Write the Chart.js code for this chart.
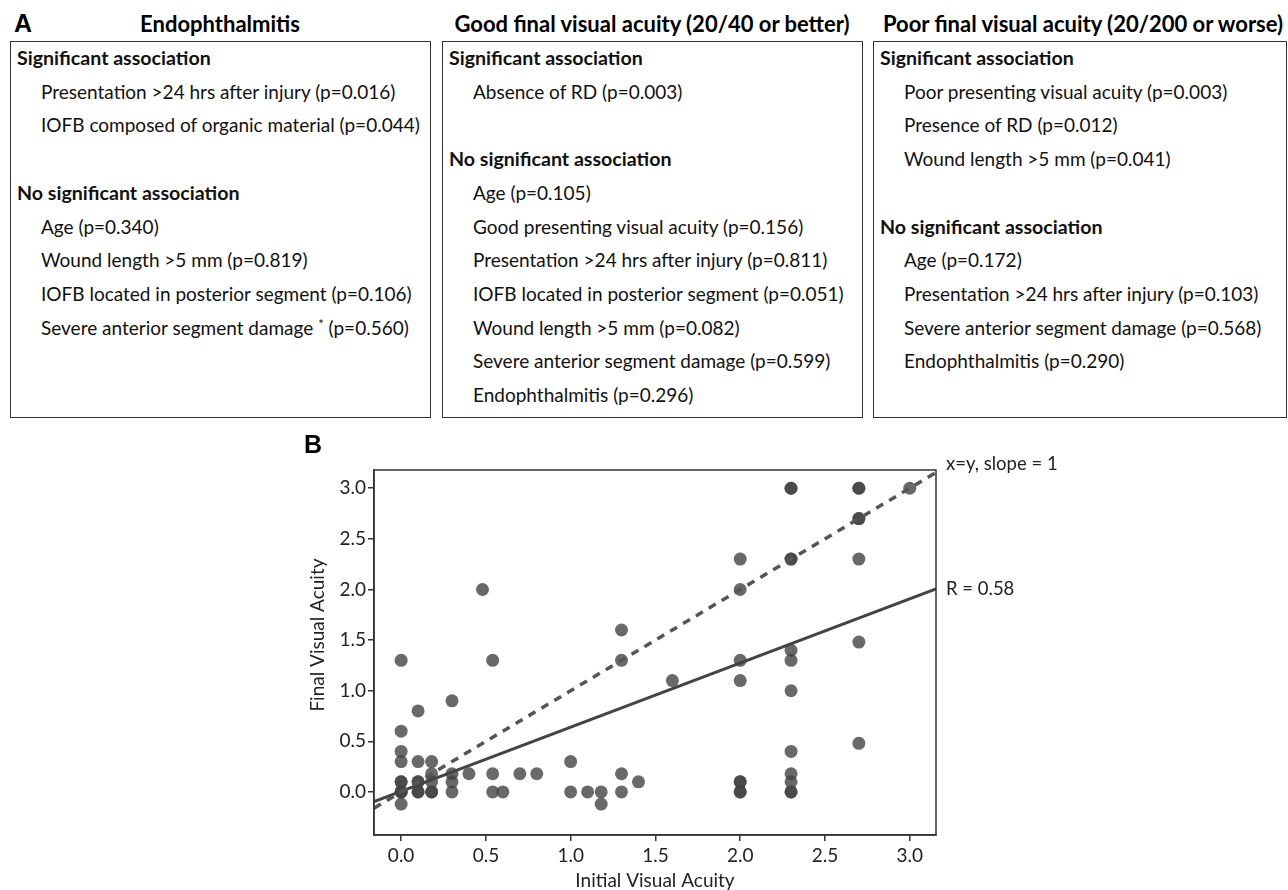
<!DOCTYPE html>
<html>
<head>
<meta charset="utf-8">
<script src="https://cdn.jsdelivr.net/npm/chart.js@4.4.1/dist/chart.umd.min.js"></script>
<style>
  html, body { margin: 0; padding: 0; background: #fff; }
  body { width: 1288px; height: 890px; position: relative; overflow: hidden; font-family: Lato, sans-serif; color: #111; }
  .tag { position: absolute; font-family: 'Liberation Sans', Arial, sans-serif; font-weight: bold; font-size: 25px; line-height: 25px; color: #000; z-index: 2; }
  .col-title { position: absolute; top: 10px; font-weight: bold; font-size: 22px; line-height: 28px; white-space: nowrap; transform: translateX(-50%); color: #000; }
  .box { position: absolute; top: 41px; height: 377px; border: 1.5px solid #333; box-sizing: border-box; }
  .line { position: absolute; height: 34px; line-height: 34px; font-size: 19px; white-space: nowrap; }
  .line.head { font-weight: bold; font-size: 19.6px; }
  .line sup { font-size: 13px; vertical-align: 6px; line-height: 0; }
  #chartB { position: absolute; left: 0; top: 430px; }
</style>
</head>
<body>
<div class="tag" style="left:14px; top:11px;">A</div>
<div class="tag" style="left:304px; top:432px;">B</div>
<canvas id="chartB" width="1288" height="460"></canvas>
<script>
// ---- panel A: association lists ----
const columnTitles = ['Endophthalmitis', 'Good final visual acuity (20/40 or better)', 'Poor final visual acuity (20/200 or worse)'];
const sigEndo = ['Presentation >24 hrs after injury (p=0.016)', 'IOFB composed of organic material (p=0.044)'];
const nonSigEndo = ['Age (p=0.340)', 'Wound length >5 mm (p=0.819)', 'IOFB located in posterior segment (p=0.106)', 'Severe anterior segment damage <sup>*</sup> (p=0.560)'];
const sigGood = ['Absence of RD (p=0.003)'];
const nonSigGood = ['Age (p=0.105)', 'Good presenting visual acuity (p=0.156)', 'Presentation >24 hrs after injury (p=0.811)', 'IOFB located in posterior segment (p=0.051)', 'Wound length >5 mm (p=0.082)', 'Severe anterior segment damage (p=0.599)', 'Endophthalmitis (p=0.296)'];
const sigPoor = ['Poor presenting visual acuity (p=0.003)', 'Presence of RD (p=0.012)', 'Wound length >5 mm (p=0.041)'];
const nonSigPoor = ['Age (p=0.172)', 'Presentation >24 hrs after injury (p=0.103)', 'Severe anterior segment damage (p=0.568)', 'Endophthalmitis (p=0.290)'];

// ---- panel B: initial vs final visual acuity (logMAR) ----
const initialVA = [0, 0, 0, 0, 0, 0, 0, 0, 0, 0,
  0.1, 0.1, 0.1, 0.1, 0.1, 0.1,
  0.18, 0.18, 0.18, 0.18, 0.18,
  0.3, 0.3, 0.3, 0.3, 0.4, 0.48, 0.54, 0.54, 0.54, 0.6, 0.7, 0.8,
  1.0, 1.0, 1.1, 1.18, 1.18, 1.3, 1.3, 1.3, 1.3, 1.4, 1.6,
  2.0, 2.0, 2.0, 2.0, 2.0, 2.0, 2.0, 2.0,
  2.3, 2.3, 2.3, 2.3, 2.3, 2.3, 2.3, 2.3, 2.3, 2.3, 2.3, 2.3,
  2.7, 2.7, 2.7, 2.7, 2.7, 2.7, 2.7, 3.0];
const finalVA = [1.3, 0.6, 0.4, 0.3, 0.1, 0.1, 0, 0, 0, -0.12,
  0.8, 0.3, 0.1, 0.1, 0, 0,
  0.3, 0.18, 0.1, 0, 0,
  0.9, 0.18, 0.1, 0, 0.18, 2.0, 1.3, 0.18, 0, 0, 0.18, 0.18,
  0.3, 0, 0, 0, -0.12, 1.6, 1.3, 0.18, 0, 0.1, 1.1,
  2.3, 2.0, 1.3, 1.1, 0.1, 0.1, 0, 0,
  3.0, 3.0, 2.3, 2.3, 1.4, 1.3, 1.0, 0.4, 0.18, 0.1, 0, 0,
  3.0, 3.0, 2.7, 2.7, 2.3, 1.48, 0.48, 3.0];
const axisTicks = [0, 0.5, 1.0, 1.5, 2.0, 2.5, 3.0];
const identityX = [-0.16, 3.155];
const identityY = [-0.16, 3.155];
const fitX = [-0.16, 3.155];
const fitY = [-0.096, 2.006];
const lineLabels = ['x=y, slope = 1', 'R = 0.58'];
const yTitle = 'Final Visual Acuity';

// build the three boxes
const boxes = [
  {left: 10, width: 421, titleX: 220, sig: sigEndo, non: nonSigEndo},
  {left: 442, width: 421, titleX: 652, sig: sigGood, non: nonSigGood},
  {left: 873, width: 414, titleX: 1083, sig: sigPoor, non: nonSigPoor}
];
const ROW0 = 58, ROW = 33.7;
function addLine(html, x, row, bold){
  const d = document.createElement('div');
  d.className = 'line' + (bold ? ' head' : '');
  d.style.left = x + 'px';
  d.style.top = (ROW0 + row * ROW - 17) + 'px';
  d.innerHTML = html;
  document.body.appendChild(d);
}
boxes.forEach((b, i) => {
  const t = document.createElement('div');
  t.className = 'col-title';
  t.style.left = b.titleX + 'px';
  t.textContent = columnTitles[i];
  document.body.appendChild(t);

  const box = document.createElement('div');
  box.className = 'box';
  box.style.left = b.left + 'px';
  box.style.width = b.width + 'px';
  document.body.appendChild(box);

  let row = 0;
  addLine('Significant association', b.left + 7, row++, true);
  b.sig.forEach(s => addLine(s, b.left + 31, row++, false));
  row++;
  addLine('No significant association', b.left + 7, row++, true);
  b.non.forEach(s => addLine(s, b.left + 31, row++, false));
});

// chart
Chart.defaults.font.family = 'Lato, sans-serif';
Chart.defaults.color = '#222';

const framePlugin = {
  id: 'frame',
  afterDraw(chart){
    const {ctx, chartArea: a, scales} = chart;
    ctx.save();
    ctx.strokeStyle = '#333';
    ctx.lineWidth = 1.5;
    ctx.strokeRect(a.left, a.top, a.right - a.left, a.bottom - a.top);
    ctx.fillStyle = '#222';
    ctx.font = '18.5px Lato, sans-serif';
    ctx.textBaseline = 'middle';
    ctx.textAlign = 'left';
    ctx.fillText(lineLabels[0], a.right + 10, scales.y.getPixelForValue(identityY[1]) - 8);
    ctx.fillText(lineLabels[1], a.right + 10, scales.y.getPixelForValue(fitY[1]));
    // y axis title (sits a bit above the plot's middle in the original)
    ctx.font = '19px Lato, sans-serif';
    ctx.textAlign = 'center';
    ctx.translate(a.left - 56, scales.y.getPixelForValue(1.55));
    ctx.rotate(-Math.PI / 2);
    ctx.fillText(yTitle, 0, 0);
    ctx.restore();
  }
};

const axisGrid = {display: true, drawOnChartArea: false, drawTicks: true, tickLength: 6, color: '#333', lineWidth: 1.5};

new Chart(document.getElementById('chartB'), {
  type: 'scatter',
  data: {
    datasets: [
      {
        label: 'x=y',
        data: identityX.map((x, i) => ({x: x, y: identityY[i]})),
        showLine: true, borderColor: '#555', borderWidth: 3.5, borderDash: [8, 7],
        pointRadius: 0, pointHitRadius: 0, fill: false
      },
      {
        label: 'fit',
        data: fitX.map((x, i) => ({x: x, y: fitY[i]})),
        showLine: true, borderColor: '#444', borderWidth: 3,
        pointRadius: 0, pointHitRadius: 0, fill: false
      },
      {
        label: 'patients',
        data: initialVA.map((x, i) => ({x: x, y: finalVA[i]})),
        backgroundColor: 'rgba(68,68,68,0.8)', borderWidth: 0, borderColor: 'rgba(0,0,0,0)',
        pointRadius: 6.5, pointHoverRadius: 6.5
      }
    ]
  },
  options: {
    responsive: false,
    animation: false,
    devicePixelRatio: 1,
    layout: {padding: {top: 40, right: 352, left: 290, bottom: 0}},
    plugins: {legend: {display: false}, tooltip: {enabled: false}},
    events: [],
    scales: {
      x: {
        type: 'linear', min: -0.16, max: 3.155,
        afterBuildTicks: s => { s.ticks = axisTicks.map(v => ({value: v})); },
        afterFit: s => { s.height = 55; },
        grid: axisGrid,
        border: {display: true, color: '#333', width: 1.5},
        ticks: {font: {size: 19}, padding: 3, maxRotation: 0, callback: v => v.toFixed(1)},
        title: {display: true, text: 'Initial Visual Acuity', font: {size: 19, lineHeight: 1}, padding: {top: 0, bottom: 0}}
      },
      y: {
        type: 'linear', min: -0.425, max: 3.18,
        afterBuildTicks: s => { s.ticks = axisTicks.map(v => ({value: v})); },
        afterFit: s => { s.width = 84; },
        grid: axisGrid,
        border: {display: true, color: '#333', width: 1.5},
        ticks: {font: {size: 19}, padding: 2, callback: v => v.toFixed(1)},
        title: {display: false}
      }
    }
  },
  plugins: [framePlugin]
});
</script>
</body>
</html>
